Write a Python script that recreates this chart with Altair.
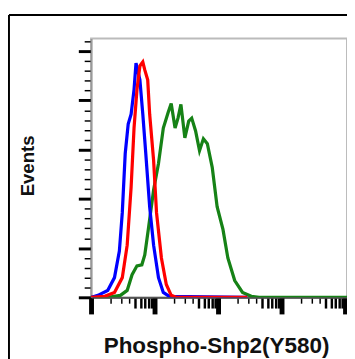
import altair as alt
import numpy as np
import pandas as pd

# x in log10 decades of fluorescence, y in event counts (arbitrary units)
blue_x = [0, 0.108, 0.262, 0.369, 0.446, 0.492, 0.538, 0.585, 0.631, 0.677, 0.708, 0.769, 0.815, 0.862, 0.923, 0.985, 1.062, 1.138, 1.231, 2.46]
blue_y = [0, 0.2, 0.7, 2.0, 4.7, 8.6, 14.6, 17.6, 18.6, 21.1, 23.8, 22.1, 18.6, 14.6, 9.2, 5.3, 2.0, 0.5, 0.1, 0]

red_x = [0, 0.215, 0.369, 0.492, 0.569, 0.631, 0.677, 0.723, 0.769, 0.815, 0.846, 0.892, 0.923, 0.985, 1.031, 1.108, 1.185, 1.262, 1.338, 2.46]
red_y = [0, 0.1, 0.5, 2.0, 5.3, 11.2, 17.2, 21.1, 23.5, 23.9, 23.1, 22.1, 18.6, 13.9, 8.6, 4.0, 1.3, 0.2, 0, 0]

green_x = [0, 0.262, 0.462, 0.569, 0.646, 0.723, 0.8, 0.846, 0.908, 0.985, 1.062, 1.138, 1.215, 1.262, 1.323, 1.369, 1.415, 1.477, 1.538, 1.585, 1.646, 1.708, 1.769, 1.831, 1.908, 1.985, 2.077, 2.154, 2.262, 2.385, 2.523, 2.646, 4.03]
green_y = [0, 0, 0.2, 0.7, 2.3, 3.2, 3.3, 4.3, 7.2, 10.9, 13.6, 17.2, 18.8, 19.7, 17.2, 18.2, 19.6, 16.2, 17.9, 18.2, 16.9, 14.9, 16.1, 15.6, 13.2, 9.2, 6.9, 4.0, 1.7, 0.5, 0.1, 0, 0]

series = ["green", "blue", "red"]
colors = ["#168216", "#0000ff", "#ff0000"]

rows = []
for i, (name, xs, ys) in enumerate([("green", green_x, green_y), ("blue", blue_x, blue_y), ("red", red_x, red_y)]):
    for j, (a, b) in enumerate(zip(xs, ys)):
        rows.append({"series": name, "order": i, "idx": j, "x": a, "y": b})
df = pd.DataFrame(rows)

decades = [0, 1, 2, 3, 4]
x_major = [d for d in decades if d <= 4.03]
x_mid = [d + np.log10(k) for d in decades for k in range(5, 10) if d + np.log10(k) <= 4.03]
x_minor = [d + np.log10(k) for d in decades for k in range(2, 5) if d + np.log10(k) <= 4.03]
y_major = list(range(0, 27, 5))
y_minor = [v for v in range(0, 27) if v % 5 != 0]

X_DOMAIN = [0, 4.03]
Y_DOMAIN = [0, 26.3]


def x_axis(values, size, width, title=None):
    kw = dict(values=values, labels=False, grid=False, orient="bottom",
              domainColor="#555555", domainWidth=1.5,
              tickColor="black", tickSize=size, tickWidth=width)
    if title:
        kw.update(title=title, titleFont="Liberation Sans", titleFontSize=23,
                  titleFontWeight="bold", titleColor="#111111",
                  titleX=128, titleY=57, titleAlign="center", titleBaseline="alphabetic")
    else:
        kw.update(title=None)
    return alt.Axis(**kw)


def y_axis(values, size, width, title=None):
    kw = dict(values=values, labels=False, grid=False, orient="left",
              domainColor="#999999", domainWidth=1.5,
              tickColor="black", tickSize=size, tickWidth=width)
    if title:
        kw.update(title=title, titleFont="Liberation Sans", titleFontSize=19,
                  titleFontWeight="bold", titleColor="#111111",
                  titleX=-65, titleY=130, titleAlign="center", titleBaseline="middle",
                  titleAngle=-90)
    else:
        kw.update(title=None)
    return alt.Axis(**kw)


def layer(xa, ya, opacity):
    return alt.Chart(df).mark_line(strokeWidth=3.3, clip=True, opacity=opacity).encode(
        x=alt.X("x:Q", scale=alt.Scale(domain=X_DOMAIN, nice=False, zero=False), axis=xa),
        y=alt.Y("y:Q", scale=alt.Scale(domain=Y_DOMAIN, nice=False), axis=ya),
        color=alt.Color("series:N", scale=alt.Scale(domain=series, range=colors), legend=None),
        detail="series:N",
        order="idx:Q",
    )


minor_layer = layer(x_axis(x_minor, 6, 1.5), y_axis(y_minor, 7, 1.5), 0)
mid_layer = layer(x_axis(x_mid, 11, 2.5), y_axis([], 7, 1.5), 0)
lines = layer(x_axis(x_major, 17, 5, "Phospho-Shp2(Y580)"),
              y_axis(y_major, 13, 3, "Events"), 1)

one = alt.Data(values=[{"a": 1}])
frame_top = alt.Chart(one).mark_rule(color="black", strokeWidth=2, clip=False).encode(
    x=alt.value(-84), x2=alt.value(400), y=alt.value(-24)
)
frame_left = alt.Chart(one).mark_rule(color="black", strokeWidth=2, clip=False).encode(
    x=alt.value(-84), y=alt.value(-24), y2=alt.value(400)
)

chart = alt.layer(frame_top, frame_left, minor_layer, mid_layer, lines).resolve_axis(
    x="independent", y="independent"
).properties(
    width=262, height=265,
    autosize=alt.AutoSizeParams(type="none"),
    padding={"left": 85, "top": 27, "right": 0, "bottom": 59},
).configure_view(stroke="#bbbbbb", strokeWidth=2)

chart.save("out.html", embed_options={"renderer": "svg", "actions": False})
